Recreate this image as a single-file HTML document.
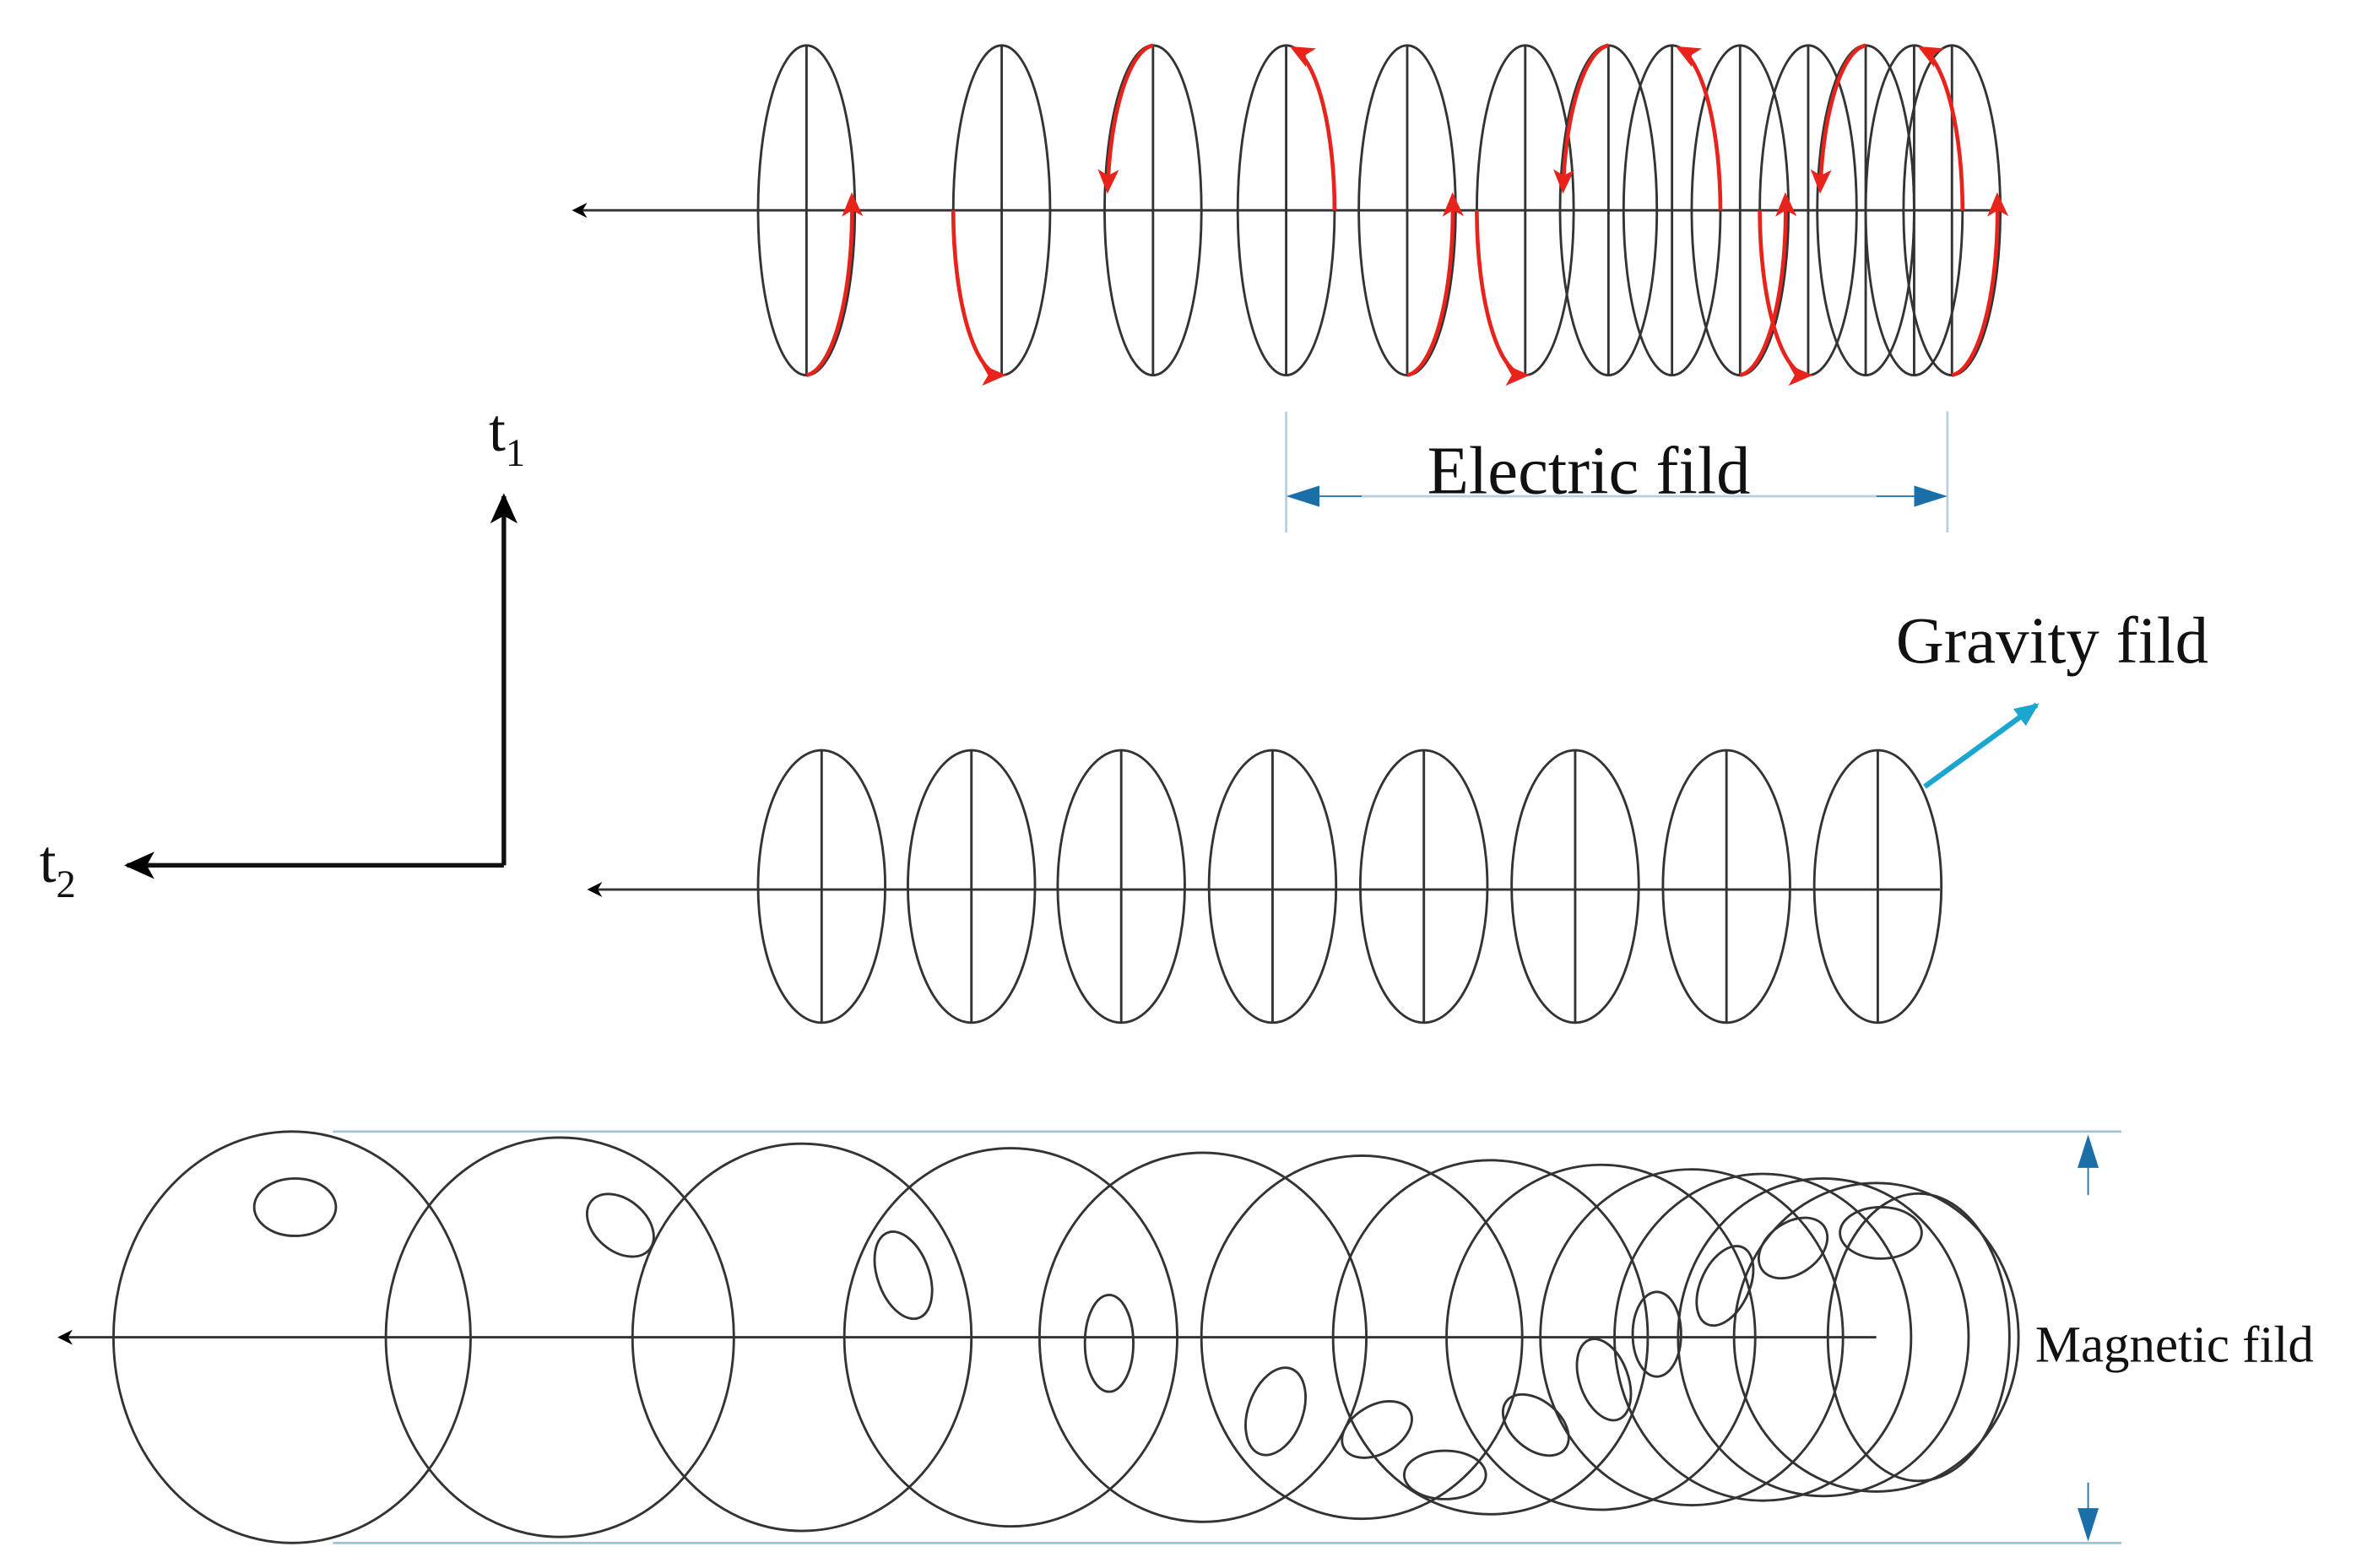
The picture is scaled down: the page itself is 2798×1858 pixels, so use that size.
<!DOCTYPE html>
<html><head><meta charset="utf-8"><style>html,body{margin:0;padding:0;background:#fff}svg{display:block}</style></head><body>
<svg width="2798" height="1858" viewBox="0 0 1561 1036.5" xmlns="http://www.w3.org/2000/svg" font-family="Liberation Serif, serif">
<defs>
<marker id="ab" markerWidth="10" markerHeight="10" refX="8" refY="5" orient="auto" markerUnits="userSpaceOnUse"><path d="M0,0 L10,5 L0,10 L3,5 Z" fill="#000"/></marker>
<marker id="abig" markerWidth="22" markerHeight="22" refX="18" refY="11" orient="auto" markerUnits="userSpaceOnUse"><path d="M0,2 L20,11 L0,20 L5,11 Z" fill="#000"/></marker>
<marker id="ar" markerWidth="16" markerHeight="16" refX="13" refY="8" orient="auto" markerUnits="userSpaceOnUse"><path d="M0,1 L16,8 L0,15 L4,8 Z" fill="#e8231c"/></marker>
<marker id="abl" markerWidth="22" markerHeight="14" refX="20" refY="7" orient="auto" markerUnits="userSpaceOnUse"><path d="M0,0 L22,7 L0,14 Z" fill="#1a6fa8"/></marker>
<marker id="acy" markerWidth="16" markerHeight="16" refX="14" refY="8" orient="auto" markerUnits="userSpaceOnUse"><path d="M0,1 L16,8 L0,15 Z" fill="#1aa6d0"/></marker>
</defs>
<g fill="none" stroke="#333" stroke-width="1.6">
<line x1="1320" y1="139" x2="380" y2="139" marker-end="url(#ab)"/>
<g>
<ellipse cx="533" cy="139" rx="32" ry="109"/><line x1="533" y1="30" x2="533" y2="248"/>
<ellipse cx="662" cy="139" rx="32" ry="109"/><line x1="662" y1="30" x2="662" y2="248"/>
<ellipse cx="762" cy="139" rx="32" ry="109"/><line x1="762" y1="30" x2="762" y2="248"/>
<ellipse cx="850" cy="139" rx="32" ry="109"/><line x1="850" y1="30" x2="850" y2="248"/>
<ellipse cx="930" cy="139" rx="32" ry="109"/><line x1="930" y1="30" x2="930" y2="248"/>
<ellipse cx="1008" cy="139" rx="32" ry="109"/><line x1="1008" y1="30" x2="1008" y2="248"/>
<ellipse cx="1063" cy="139" rx="32" ry="109"/><line x1="1063" y1="30" x2="1063" y2="248"/>
<ellipse cx="1105" cy="139" rx="32" ry="109"/><line x1="1105" y1="30" x2="1105" y2="248"/>
<ellipse cx="1150" cy="139" rx="32" ry="109"/><line x1="1150" y1="30" x2="1150" y2="248"/>
<ellipse cx="1195" cy="139" rx="32" ry="109"/><line x1="1195" y1="30" x2="1195" y2="248"/>
<ellipse cx="1233" cy="139" rx="32" ry="109"/><line x1="1233" y1="30" x2="1233" y2="248"/>
<ellipse cx="1265" cy="139" rx="32" ry="109"/><line x1="1265" y1="30" x2="1265" y2="248"/>
<ellipse cx="1290" cy="139" rx="32" ry="109"/><line x1="1290" y1="30" x2="1290" y2="248"/>
</g>
</g>
<g fill="none" stroke="#e8231c" stroke-width="2.6">
<path d="M533,248 A32,109 0 0 0 563,130" marker-end="url(#ar)"/>
<path d="M630,139 A32,109 0 0 0 662,248" marker-end="url(#ar)"/>
<path d="M762,30 A32,109 0 0 0 732,125" marker-end="url(#ar)"/>
<path d="M882,139 A32,109 0 0 0 855,32" marker-end="url(#ar)"/>
<path d="M930,248 A32,109 0 0 0 960,130" marker-end="url(#ar)"/>
<path d="M976,139 A32,109 0 0 0 1008,248" marker-end="url(#ar)"/>
<path d="M1063,30 A32,109 0 0 0 1033,125" marker-end="url(#ar)"/>
<path d="M1137,139 A32,109 0 0 0 1110,32" marker-end="url(#ar)"/>
<path d="M1150,248 A32,109 0 0 0 1180,130" marker-end="url(#ar)"/>
<path d="M1163,139 A32,109 0 0 0 1195,248" marker-end="url(#ar)"/>
<path d="M1233,30 A32,109 0 0 0 1203,125" marker-end="url(#ar)"/>
<path d="M1297,139 A32,109 0 0 0 1270,32" marker-end="url(#ar)"/>
<path d="M1290,248 A32,109 0 0 0 1320,130" marker-end="url(#ar)"/>
</g>
<g stroke="#b8cde0" stroke-width="1.5"><line x1="850" y1="272" x2="850" y2="352"/><line x1="1287" y1="272" x2="1287" y2="352"/></g>
<g stroke="#b8cde0" stroke-width="1.5"><line x1="900" y1="328" x2="1240" y2="328"/></g>
<line x1="900" y1="328" x2="852" y2="328" stroke="#1a6fa8" stroke-width="1" marker-end="url(#abl)"/>
<line x1="1240" y1="328" x2="1285" y2="328" stroke="#1a6fa8" stroke-width="1" marker-end="url(#abl)"/>
<text x="1050" y="326" font-size="45" text-anchor="middle" fill="#111">Electric fild</text>
<g fill="none" stroke="#111" stroke-width="3">
<line x1="333" y1="572" x2="333" y2="328" marker-end="url(#abig)"/>
<line x1="333" y1="572" x2="84" y2="572" marker-end="url(#abig)"/>
</g>
<text x="323" y="298" font-size="40" fill="#111">t<tspan font-size="26" dy="10">1</tspan></text>
<text x="26" y="583" font-size="40" fill="#111">t<tspan font-size="26" dy="10">2</tspan></text>
<g fill="none" stroke="#333" stroke-width="1.6">
<line x1="1282" y1="588" x2="390" y2="588" marker-end="url(#ab)"/>
<ellipse cx="543" cy="586" rx="42" ry="90"/><line x1="543" y1="496" x2="543" y2="676"/>
<ellipse cx="642" cy="586" rx="42" ry="90"/><line x1="642" y1="496" x2="642" y2="676"/>
<ellipse cx="741" cy="586" rx="42" ry="90"/><line x1="741" y1="496" x2="741" y2="676"/>
<ellipse cx="841" cy="586" rx="42" ry="90"/><line x1="841" y1="496" x2="841" y2="676"/>
<ellipse cx="941" cy="586" rx="42" ry="90"/><line x1="941" y1="496" x2="941" y2="676"/>
<ellipse cx="1041" cy="586" rx="42" ry="90"/><line x1="1041" y1="496" x2="1041" y2="676"/>
<ellipse cx="1141" cy="586" rx="42" ry="90"/><line x1="1141" y1="496" x2="1141" y2="676"/>
<ellipse cx="1241" cy="586" rx="42" ry="90"/><line x1="1241" y1="496" x2="1241" y2="676"/>
</g>
<text x="1253" y="438" font-size="44" fill="#111">Gravity fild</text>
<line x1="1272" y1="520" x2="1346" y2="466" stroke="#1aa6d0" stroke-width="3.5" marker-end="url(#acy)"/>
<g stroke="#9cc3d8" stroke-width="1.5"><line x1="220" y1="748" x2="1402" y2="748"/><line x1="220" y1="1020" x2="1402" y2="1020"/></g>
<line x1="1380" y1="790" x2="1380" y2="752" stroke="#1a6fa8" stroke-width="1" marker-end="url(#abl)"/>
<line x1="1380" y1="980" x2="1380" y2="1017" stroke="#1a6fa8" stroke-width="1" marker-end="url(#abl)"/>
<text x="1345" y="900" font-size="34" fill="#111">Magnetic fild</text>
<g fill="none" stroke="#333" stroke-width="1.6">
<line x1="1240" y1="884" x2="40" y2="884" marker-end="url(#ab)"/>
<ellipse cx="193" cy="884" rx="118" ry="136"/>
<ellipse cx="370" cy="884" rx="115" ry="132"/>
<ellipse cx="530" cy="884" rx="112" ry="128"/>
<ellipse cx="668" cy="884" rx="110" ry="125"/>
<ellipse cx="795" cy="884" rx="108" ry="122"/>
<ellipse cx="900" cy="884" rx="106" ry="120"/>
<ellipse cx="985" cy="884" rx="104" ry="117"/>
<ellipse cx="1058" cy="884" rx="102" ry="114"/>
<ellipse cx="1118" cy="884" rx="100" ry="111"/>
<ellipse cx="1165" cy="884" rx="98" ry="108"/>
<ellipse cx="1205" cy="884" rx="96" ry="105"/>
<ellipse cx="1240" cy="884" rx="94" ry="102"/>
<ellipse cx="1268" cy="884" rx="60" ry="95"/>
<ellipse cx="195" cy="798" rx="27" ry="19"/>
<ellipse cx="410" cy="810" rx="25" ry="17" transform="rotate(40 410 810)"/>
<ellipse cx="597" cy="843" rx="17" ry="30" transform="rotate(-20 597 843)"/>
<ellipse cx="733" cy="888" rx="16" ry="32"/>
<ellipse cx="843" cy="933" rx="18" ry="30" transform="rotate(20 843 933)"/>
<ellipse cx="910" cy="945" rx="25" ry="16" transform="rotate(-30 910 945)"/>
<ellipse cx="955" cy="975" rx="27" ry="16"/>
<ellipse cx="1015" cy="942" rx="25" ry="16" transform="rotate(40 1015 942)"/>
<ellipse cx="1060" cy="912" rx="16" ry="28" transform="rotate(-20 1060 912)"/>
<ellipse cx="1095" cy="882" rx="16" ry="28"/>
<ellipse cx="1140" cy="850" rx="16" ry="28" transform="rotate(25 1140 850)"/>
<ellipse cx="1185" cy="825" rx="25" ry="17" transform="rotate(-35 1185 825)"/>
<ellipse cx="1243" cy="815" rx="27" ry="17"/>
</g>
</svg>
</body></html>
